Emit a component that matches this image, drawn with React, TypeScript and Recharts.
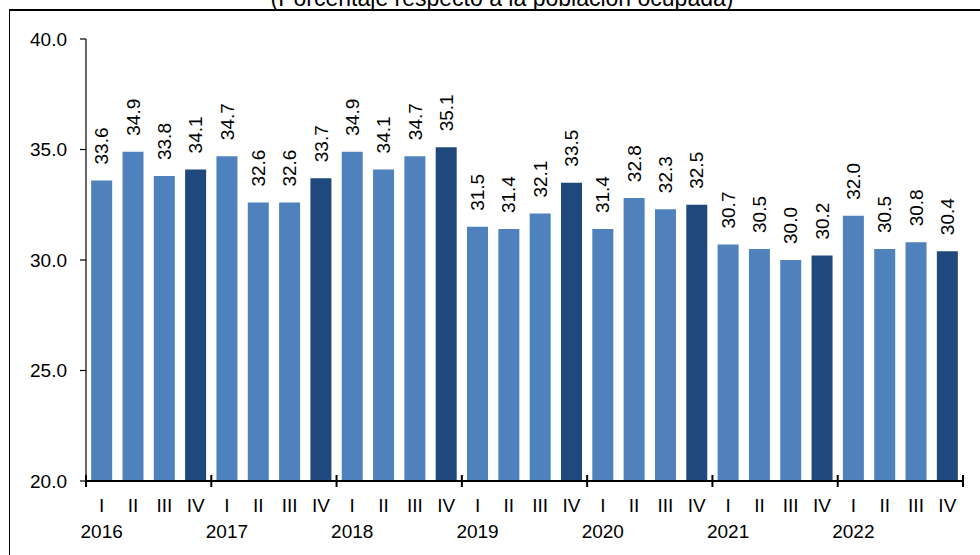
import { BarChart, Bar, XAxis, YAxis, Cell, LabelList } from 'recharts';

const years = ['2016', '2017', '2018', '2019', '2020', '2021', '2022'];
const quarters = ['I', 'II', 'III', 'IV'];
const values = [
  33.6, 34.9, 33.8, 34.1,
  34.7, 32.6, 32.6, 33.7,
  34.9, 34.1, 34.7, 35.1,
  31.5, 31.4, 32.1, 33.5,
  31.4, 32.8, 32.3, 32.5,
  30.7, 30.5, 30.0, 30.2,
  32.0, 30.5, 30.8, 30.4,
];
const yTicks = [20, 25, 30, 35, 40];

const data = values.map((v, i) => ({
  key: `${years[Math.floor(i / 4)]}-${quarters[i % 4]}`,
  year: years[Math.floor(i / 4)],
  q: quarters[i % 4],
  value: v,
}));

const FONT = '"Liberation Sans", Arial, sans-serif';
const LIGHT = '#4f81bd';
const DARK = '#1f497d';
const CHART_W = 980;
const M_LEFT = 16;
const Y_W = 70;
const M_RIGHT = 17;
const HALF_BAND = (CHART_W - M_LEFT - Y_W - M_RIGHT) / data.length / 2;

// quarter label, year under quarter I, and year separator marks across the axis
const QuarterTick = (props: any) => {
  const { x, y, index } = props;
  const d = data[index];
  if (!d) return null;
  const axisY = y;
  return (
    <g>
      <text x={x} y={axisY + 24} textAnchor="middle" dominantBaseline="central" fontSize={19} fontFamily={FONT} fill="#000">
        {d.q}
      </text>
      {d.q === 'I' && (
        <text x={x} y={axisY + 50} textAnchor="middle" dominantBaseline="central" fontSize={19} fontFamily={FONT} fill="#000">
          {d.year}
        </text>
      )}
      {d.q === 'I' && (
        <path d={`M${x - HALF_BAND},${axisY - 6}V${axisY + 6}`} stroke="#000" strokeWidth={2} fill="none" />
      )}
      {index === data.length - 1 && (
        <path d={`M${x + HALF_BAND},${axisY - 6}V${axisY + 6}`} stroke="#000" strokeWidth={2} fill="none" />
      )}
    </g>
  );
};

const ValueLabel = (props: any) => {
  const { x, y, width, value } = props;
  const cx = x + width / 2;
  const y0 = y - 16;
  return (
    <text
      x={cx}
      y={y0}
      dy="0.35em"
      transform={`rotate(-90 ${cx} ${y0})`}
      textAnchor="start"
      fontSize={19}
      fontFamily={FONT}
      fill="#000"
    >
      {Number(value).toFixed(1)}
    </text>
  );
};

export default function App() {
  return (
    <div style={{ position: 'absolute', left: 0, top: 0, width: 980, height: 555, overflow: 'hidden', background: '#fff' }}>
      <div
        style={{
          position: 'absolute',
          left: 9,
          top: 9,
          width: 1000,
          height: 600,
          borderLeft: '1.5px solid #000',
          borderTop: '2px solid #000',
        }}
      />
      <svg style={{ position: 'absolute', left: 0, top: 0 }} width={980} height={20}>
        <text x={502} y={6} textAnchor="middle" fontSize={23} fontFamily={FONT} fill="#000">
          (Porcentaje respecto a la población ocupada)
        </text>
      </svg>
      <div style={{ position: 'absolute', left: 0, top: 0 }}>
        <BarChart
          width={CHART_W}
          height={555}
          data={data}
          margin={{ top: 39, right: M_RIGHT, bottom: 0, left: M_LEFT }}
          barCategoryGap="16.5%"
        >
          <XAxis
            dataKey="key"
            interval={0}
            tickLine={false}
            tickSize={0}
            tickMargin={0}
            axisLine={{ stroke: '#000', strokeWidth: 2 }}
            tick={<QuarterTick />}
            height={74}
          />
          <YAxis
            domain={[20, 40]}
            ticks={yTicks}
            width={Y_W}
            allowDataOverflow
            tickFormatter={(v: number) => v.toFixed(1)}
            tickSize={6}
            tickMargin={13}
            axisLine={{ stroke: '#000', strokeWidth: 1.2 }}
            tickLine={{ stroke: '#000', strokeWidth: 1.2 }}
            tick={{ fontSize: 19, fontFamily: FONT, fill: '#000' }}
          />
          <Bar dataKey="value" isAnimationActive={false}>
            {data.map((d) => (
              <Cell key={d.key} fill={d.q === 'IV' ? DARK : LIGHT} />
            ))}
            <LabelList dataKey="value" content={<ValueLabel />} />
          </Bar>
        </BarChart>
      </div>
    </div>
  );
}
